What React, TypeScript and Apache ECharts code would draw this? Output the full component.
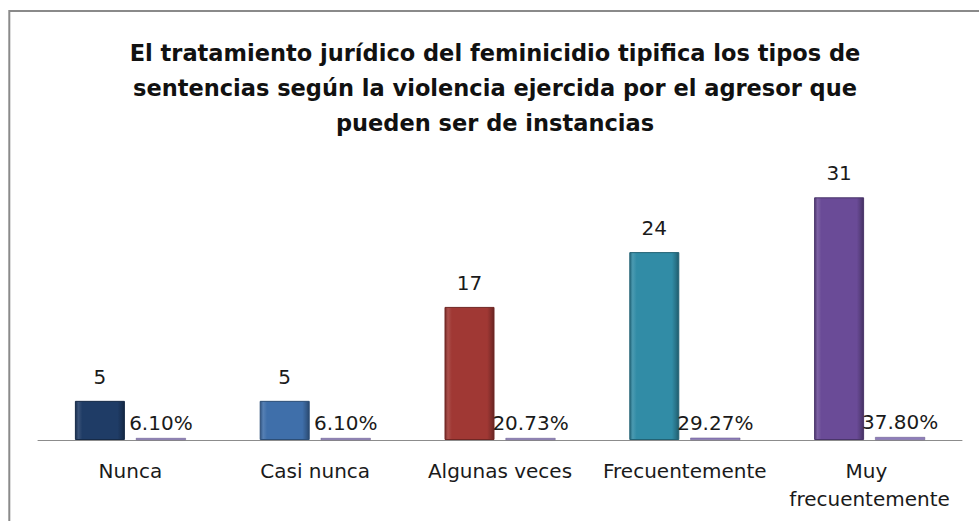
import React, { useEffect, useRef } from "react";
import * as echarts from "echarts";

const titleLines = [
  "El tratamiento jurídico del feminicidio tipifica los tipos de",
  "sentencias según la violencia ejercida por el agresor que",
  "pueden ser de instancias",
];
const categories = ["Nunca", "Casi nunca", "Algunas veces", "Frecuentemente", "Muy frecuentemente"];
const counts = [5, 5, 17, 24, 31];
const percents = [6.1, 6.1, 20.73, 29.27, 37.8];
const barColors = ["#1F3C66", "#3F6FAA", "#A03834", "#318CA6", "#6A4B97"];
const percentColor = "#8E7CBC";

function shade(hex: string, f: number): string {
  const n = parseInt(hex.slice(1), 16);
  let r = (n >> 16) & 255, g = (n >> 8) & 255, b = n & 255;
  const t = f < 0 ? 0 : 255;
  const p = Math.abs(f);
  r = Math.round((t - r) * p + r);
  g = Math.round((t - g) * p + g);
  b = Math.round((t - b) * p + b);
  return "#" + ((1 << 24) + (r << 16) + (g << 8) + b).toString(16).slice(1);
}

function bevel(c: string) {
  return new echarts.graphic.LinearGradient(0, 0, 1, 0, [
    { offset: 0, color: shade(c, -0.25) },
    { offset: 0.06, color: shade(c, 0.12) },
    { offset: 0.14, color: c },
    { offset: 0.86, color: c },
    { offset: 0.94, color: shade(c, -0.18) },
    { offset: 1, color: shade(c, -0.35) },
  ]);
}

const labelFont = "DejaVu Sans";

export default function App() {
  const ref = useRef<HTMLDivElement>(null);
  useEffect(() => {
    if (!ref.current) return;
    const chart = echarts.init(ref.current, null, { renderer: "svg" });
    chart.setOption({
      animation: false,
      backgroundColor: "#ffffff",
      title: {
        text: titleLines.join("\n"),
        left: 490,
        textAlign: "center",
        top: 30,
        textStyle: {
          fontFamily: "DejaVu Sans",
          fontWeight: "bold",
          fontSize: 22.5,
          lineHeight: 35,
          color: "#111111",
        },
      },
      graphic: [
        {
          type: "rect",
          silent: true,
          shape: { x: 9.3, y: 11, width: 1200, height: 800 },
          style: { fill: "none", stroke: "#8a8a8a", lineWidth: 2 },
        },
      ],
      grid: { left: 38, right: 17, top: 166, bottom: 81 },
      xAxis: {
        type: "category",
        data: categories,
        axisLine: { lineStyle: { color: "#8c8c8c", width: 1 } },
        axisTick: { inside: true, length: 7, lineStyle: { color: "#8c8c8c" } },
        axisLabel: {
          interval: 0,
          margin: 17,
          fontFamily: labelFont,
          fontSize: 20,
          color: "#1a1a1a",
          width: 182,
          overflow: "break",
          lineHeight: 28,
        },
      },
      yAxis: {
        type: "value",
        min: 0,
        max: 35,
        show: false,
        splitLine: { show: false },
      },
      series: [
        {
          type: "bar",
          barWidth: 50,
          barGap: "22%",
          data: counts.map((v, i) => ({
            value: v,
            itemStyle: {
              color: bevel(barColors[i]),
              borderColor: shade(barColors[i], -0.3),
              borderWidth: 1,
            },
          })),
          label: {
            show: true,
            position: "top",
            distance: 14,
            fontFamily: labelFont,
            fontSize: 20,
            color: "#1a1a1a",
          },
        },
        {
          type: "bar",
          barWidth: 50,
          barMinHeight: 2,
          data: percents.map((p) => p / 100),
          itemStyle: { color: percentColor, borderColor: shade(percentColor, -0.3), borderWidth: 0.5 },
          label: {
            show: true,
            position: "top",
            distance: 5,
            fontFamily: labelFont,
            fontSize: 20,
            color: "#1a1a1a",
            formatter: (p: any) => (p.value * 100).toFixed(2) + "%",
          },
        },
      ],
    });
    return () => chart.dispose();
  }, []);
  return (
    <div
      ref={ref}
      style={{ position: "absolute", left: 0, top: 0, width: 979, height: 521 }}
    />
  );
}
